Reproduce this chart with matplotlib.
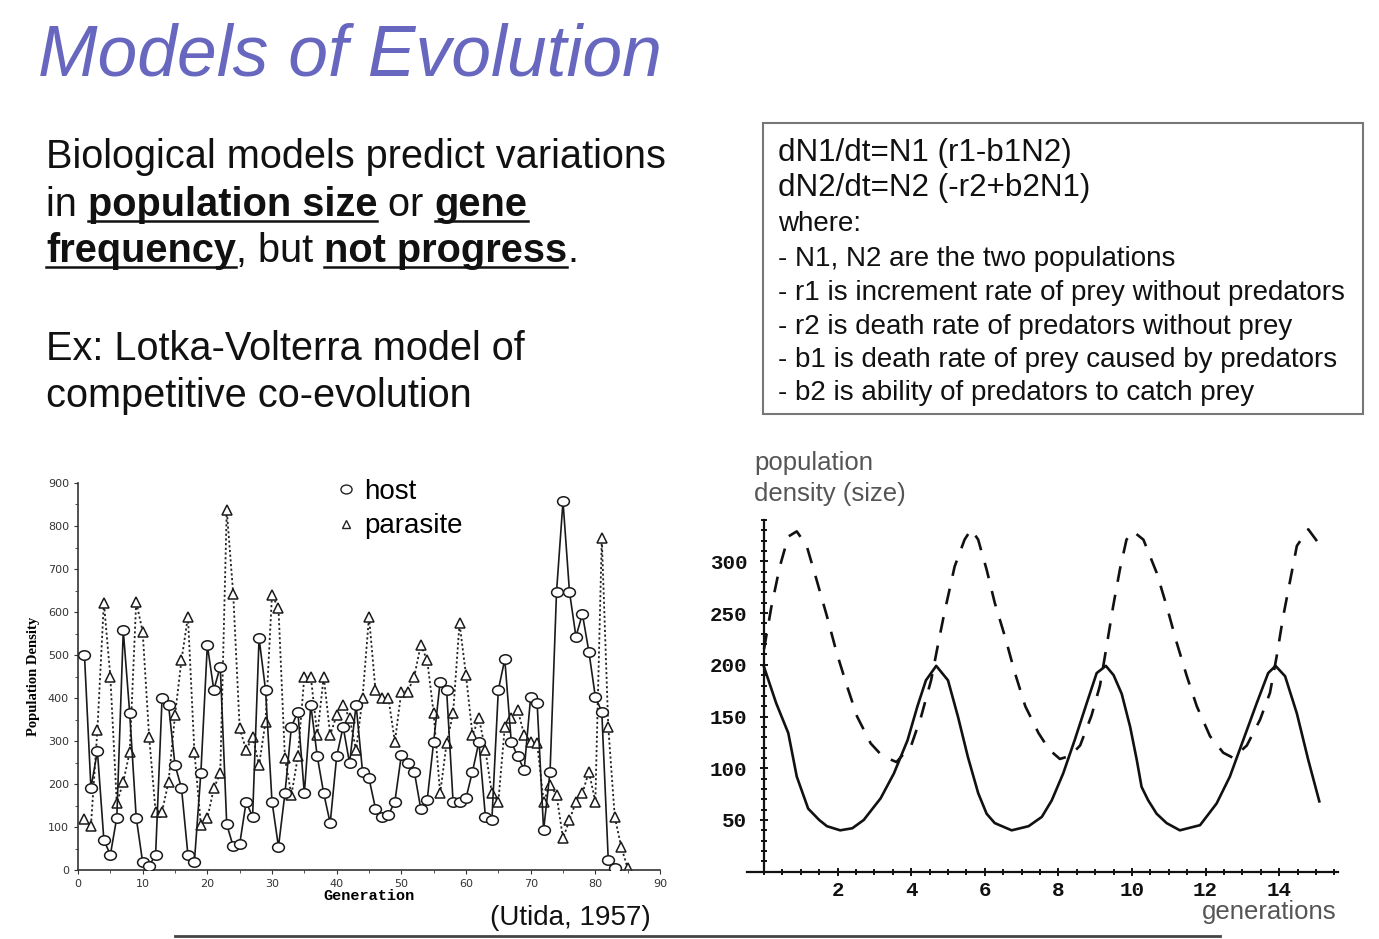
import matplotlib.pyplot as plt
from matplotlib.lines import Line2D
from matplotlib.patches import Rectangle
from matplotlib.path import Path
from matplotlib.transforms import Affine2D
from matplotlib.ticker import MultipleLocator

W, H = 1379, 939

# Utida (1957): host / parasite densities per generation
gen_host = list(range(1, 84))
host = [500, 190, 277, 70, 35, 122, 557, 364, 122, 18,
        10, 35, 400, 384, 244, 191, 35, 19, 226, 523,
        419, 473, 106, 55, 60, 158, 124, 539, 419, 159,
        54, 178, 333, 368, 178, 384, 264, 178, 109, 264,
        333, 248, 384, 229, 213, 143, 124, 128, 159, 267,
        248, 229, 143, 163, 298, 438, 419, 159, 159, 167,
        229, 298, 124, 116, 419, 490, 298, 264, 233, 403,
        388, 93, 229, 647, 857, 647, 543, 595, 508, 403,
        368, 23, 4]
gen_para = list(range(1, 86))
parasite = [118, 103, 326, 622, 450, 155, 205, 275, 624, 554,
            310, 136, 136, 205, 360, 488, 589, 275, 105, 120,
            190, 225, 837, 643, 330, 279, 310, 244, 345, 640,
            609, 260, 174, 264, 450, 450, 314, 450, 314, 360,
            384, 353, 279, 400, 589, 419, 400, 400, 298, 415,
            415, 450, 523, 488, 364, 178, 295, 364, 574, 453,
            314, 353, 279, 178, 159, 333, 353, 372, 314, 298,
            295, 159, 198, 174, 74, 116, 159, 178, 229, 159,
            771, 333, 124, 54, 4]

# Lotka-Volterra curves
prey_t = [0.00, 0.33, 0.66, 0.89, 1.20, 1.50, 1.71, 2.07, 2.40, 2.71,
          3.17, 3.53, 3.90, 4.17, 4.40, 4.68, 5.00, 5.27, 5.54, 5.82,
          6.05, 6.27, 6.73, 7.19, 7.55, 7.82, 8.13, 8.45, 8.77, 9.04,
          9.29, 9.50, 9.72, 9.95, 10.13, 10.26, 10.44, 10.67, 10.94, 11.30,
          11.85, 12.30, 12.66, 13.03, 13.39, 13.70, 13.90, 14.16, 14.48, 14.79,
          15.09]
prey_v = [198, 163, 134, 92, 61, 50, 44, 40, 42, 50,
          71, 95, 127, 160, 185, 199, 185, 150, 111, 76,
          56, 47, 40, 44, 53, 69, 95, 128, 163, 192,
          199, 190, 172, 140, 108, 82, 69, 56, 47, 40,
          45, 66, 92, 128, 163, 192, 199, 189, 153, 108,
          68]
pred_t = [0.00, 0.20, 0.43, 0.66, 0.89, 1.16, 1.43, 1.71, 1.98, 2.26,
          2.53, 2.90, 3.21, 3.60, 4.00, 4.27, 4.54, 4.72, 4.90, 5.18,
          5.45, 5.63, 5.82, 6.05, 6.27, 6.55, 6.82, 7.10, 7.46, 7.75,
          8.04, 8.32, 8.59, 8.90, 9.13, 9.31, 9.49, 9.67, 9.85, 10.03,
          10.31, 10.67, 10.94, 11.21, 11.49, 11.76, 12.12, 12.48, 12.75, 13.12,
          13.48, 13.75, 13.93, 14.11, 14.30, 14.48, 14.79, 15.06]
pred_v = [215, 256, 295, 324, 329, 315, 282, 247, 211, 179,
          150, 124, 112, 106, 122, 150, 185, 218, 250, 295,
          321, 331, 321, 292, 260, 227, 192, 160, 134, 118,
          109, 112, 122, 151, 180, 218, 257, 292, 321, 329,
          321, 289, 257, 222, 189, 160, 131, 115, 110, 122,
          147, 173, 208, 247, 282, 315, 331, 318]

box_lines = ["dN1/dt=N1 (r1-b1N2)",
             "dN2/dt=N2 (-r2+b2N1)",
             "where:",
             "- N1, N2 are the two populations",
             "- r1 is increment rate of prey without predators",
             "- r2 is death rate of predators without prey",
             "- b1 is death rate of prey caused by predators",
             "- b2 is ability of predators to catch prey"]

SANS = "Liberation Sans"
INK = "#111111"

fig = plt.figure(figsize=(W / 100, H / 100), dpi=100)
renderer = fig.canvas.get_renderer()


def fx(x):
    return x / W


def fy(y):
    return 1 - y / H


def text_width(s, **kw):
    a = fig.text(0, 0, "|" + s + "|", **kw)
    b = fig.text(0, 0, "||", **kw)
    w = a.get_window_extent(renderer).width - b.get_window_extent(renderer).width
    a.remove()
    b.remove()
    return w


def rich_line(x, y, parts, size=28.6):
    for s, bold, under in parts:
        kw = dict(fontsize=size, family=SANS,
                  fontweight="bold" if bold else "normal")
        fig.text(fx(x), fy(y), s, va="baseline", ha="left", color=INK, **kw)
        w = text_width(s, **kw)
        if under:
            fig.add_artist(Line2D([fx(x), fx(x + w)], [fy(y + 5), fy(y + 5)],
                                  color=INK, lw=1.8))
        x += w


# title and bullet text
fig.text(fx(38), fy(75), "Models of Evolution", fontsize=51.5, style="italic",
         family=SANS, color="#6767bf", va="baseline")

rich_line(46, 168, [("Biological models predict variations", False, False)])
rich_line(46, 216, [("in ", False, False), ("population size", True, True),
                    (" or ", False, False), ("gene", True, True)])
rich_line(46, 262, [("frequency", True, True), (", but ", False, False),
                    ("not progress", True, True), (".", False, False)])
rich_line(46, 360, [("Ex: Lotka-Volterra model of", False, False)])
rich_line(46, 407, [("competitive co-evolution", False, False)])

# equation box
fig.add_artist(Rectangle((fx(763), fy(414)), fx(600), 291 / H, fill=False,
                         edgecolor="#777777", lw=1.5))
box_base = [161, 196, 231, 266, 300, 334, 367, 400]
for i, (s, yb) in enumerate(zip(box_lines, box_base)):
    fig.text(fx(778), fy(yb), s, fontsize=22.6 if i < 2 else 20, family=SANS,
             color=INK, va="baseline")

# left chart: Utida host-parasite data
ell = Path.unit_circle().transformed(Affine2D().scale(1.25, 1.0))
ax1 = fig.add_axes([fx(78), fy(870), 582 / W, 387 / H])
ax1.plot(gen_host, host, color="#1a1a1a", lw=1.2, marker=ell, ms=8.5,
         mfc="white", mec="#1a1a1a", mew=1.1, zorder=3)
ax1.plot(gen_para, parasite, color="#222222", lw=1.3, ls=(0, (1.2, 1.4)),
         marker="^", ms=6.5, mfc="white", mec="#1a1a1a", mew=1.1, zorder=2)
ax1.set_xlim(0, 90)
ax1.set_ylim(0, 900)
ax1.xaxis.set_major_locator(MultipleLocator(10))
ax1.xaxis.set_minor_locator(MultipleLocator(5))
ax1.yaxis.set_major_locator(MultipleLocator(100))
ax1.yaxis.set_minor_locator(MultipleLocator(50))
for sp in ("top", "right"):
    ax1.spines[sp].set_visible(False)
for sp in ("left", "bottom"):
    ax1.spines[sp].set_color("#333333")
    ax1.spines[sp].set_linewidth(1.2)
ax1.tick_params(which="both", direction="out", colors="#333333", labelsize=8)
ax1.tick_params(which="major", length=3)
ax1.tick_params(which="minor", length=2)
ax1.set_xlabel("Generation", family="Liberation Mono", fontweight="bold",
               fontsize=11, labelpad=0)
ax1.set_ylabel("Population Density", family="Liberation Serif",
               fontweight="bold", fontsize=10.5, labelpad=6)
handles = [Line2D([], [], ls="none", marker=ell, ms=8, mfc="white",
                  mec="#222222"),
           Line2D([], [], ls="none", marker="^", ms=6, mfc="white",
                  mec="#222222")]
ax1.legend(handles, ["host", "parasite"], loc="upper left",
           bbox_to_anchor=(fx(338), fy(479)), bbox_transform=fig.transFigure,
           frameon=False, prop={"family": SANS, "size": 20},
           handlelength=0.6, handletextpad=0.35, labelspacing=0.3,
           borderpad=0, borderaxespad=0)
fig.text(fx(490), fy(925), "(Utida, 1957)", fontsize=20, family=SANS,
         color=INK, va="baseline")

# right chart: Lotka-Volterra sketch
x0 = 764 - 0.45 * 36.8
ax2 = fig.add_axes([fx(x0), fy(871.7), 16.05 * 36.8 / W, 351.7 / H])
ax2.plot(prey_t, prey_v, color="#111111", lw=1.9)
ax2.plot(pred_t, pred_v, color="#111111", lw=1.9, ls=(0, (6, 5)))
ax2.set_xlim(-0.45, 15.6)
ax2.set_ylim(0, 340)
ax2.spines["left"].set_position(("data", 0))
for sp in ("top", "right"):
    ax2.spines[sp].set_visible(False)
for sp in ("left", "bottom"):
    ax2.spines[sp].set_linewidth(1.6)
    ax2.spines[sp].set_color("#111111")
ax2.set_xticks([2, 4, 6, 8, 10, 12, 14])
ax2.set_yticks([50, 100, 150, 200, 250, 300])
ax2.xaxis.set_minor_locator(MultipleLocator(0.5))
ax2.yaxis.set_minor_locator(MultipleLocator(10))
ax2.tick_params(which="both", direction="inout", colors="#111111", width=1.4)
ax2.tick_params(which="major", length=6)
ax2.tick_params(axis="x", which="major", pad=4)
ax2.tick_params(axis="y", which="major", pad=9)
ax2.tick_params(which="minor", length=4)
for lab in ax2.get_xticklabels() + ax2.get_yticklabels():
    lab.set_fontfamily("Liberation Mono")
    lab.set_fontweight("bold")
    lab.set_fontsize(15)
fig.text(fx(754), fy(470), "population", fontsize=18.5, family=SANS,
         color="#555555", va="baseline")
fig.text(fx(754), fy(501), "density (size)", fontsize=18.5, family=SANS,
         color="#555555", va="baseline")
fig.text(fx(1202), fy(919), "generations", fontsize=18.5, family=SANS,
         color="#555555", va="baseline")

# footer rule of the slide
fig.add_artist(Line2D([fx(175), fx(1220)], [fy(936), fy(936)],
                      color="#444444", lw=2))

fig.savefig("out.png", dpi=100)
